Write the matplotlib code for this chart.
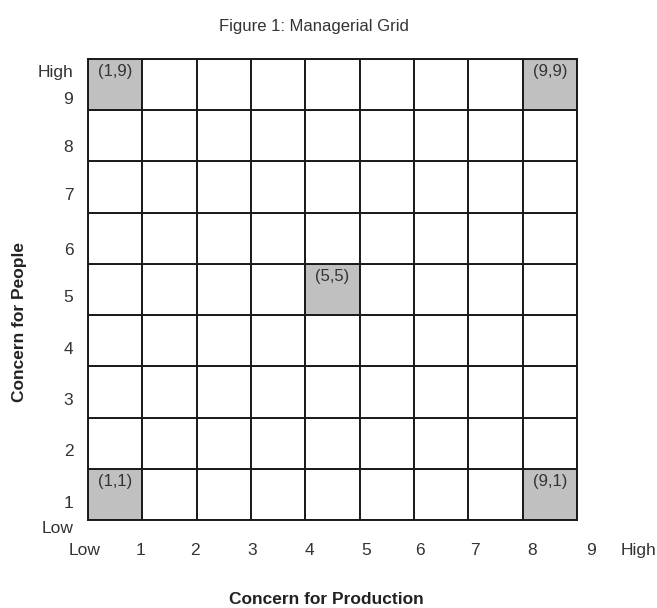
import matplotlib
matplotlib.use("Agg")
import matplotlib.pyplot as plt
from matplotlib.patches import Rectangle

plt.rcParams['font.family'] = ['Liberation Sans Narrow', 'Liberation Sans', 'DejaVu Sans']

# ---- data ----
title = "Figure 1: Managerial Grid"
x_title = "Concern for Production"
y_title = "Concern for People"
n_cells = 9
shaded_cells = [(1, 9), (9, 9), (5, 5), (1, 1), (9, 1)]
x_tick_labels = ["Low", "1", "2", "3", "4", "5", "6", "7", "8", "9", "High"]
y_tick_labels = ["Low", "1", "2", "3", "4", "5", "6", "7", "8", "9", "High"]

# ---- layout (positions of labels in grid units) ----
x_tick_pos = [-0.06, 0.96, 1.97, 3.02, 4.07, 5.12, 6.11, 7.13, 8.18, 9.26, 10.13]
y_tick_pos = [-0.16, 0.33, 1.33, 2.34, 3.32, 4.34, 5.27, 6.33, 7.27, 8.2, 8.73]

W, H = 657, 608
fig = plt.figure(figsize=(W / 100, H / 100), dpi=100)
left, right, top, bottom = 88, 577, 59, 520
ax = fig.add_axes([left / W, 1 - bottom / H, (right - left) / W, (bottom - top) / H])
ax.set_xlim(0, n_cells)
ax.set_ylim(0, n_cells)
ax.set_xticks([])
ax.set_yticks([])

shaded = set(shaded_cells)
for i in range(1, n_cells + 1):
    for j in range(1, n_cells + 1):
        fc = "#c0c0c0" if (i, j) in shaded else "white"
        ax.add_patch(Rectangle((i - 1, j - 1), 1, 1, facecolor=fc,
                               edgecolor="#1a1a1a", linewidth=1.4))
for (i, j) in shaded_cells:
    ax.text(i - 0.5, j - 0.1, f"({i},{j})", ha="center", va="top",
            fontsize=12, color="#333333")

for s in ax.spines.values():
    s.set_linewidth(1.4)
    s.set_color("#1a1a1a")

for pos, lab in zip(x_tick_pos, x_tick_labels):
    ax.text(pos, -0.6, lab, ha="center", va="center", fontsize=12.5,
            color="#333333", clip_on=False)
for pos, lab in zip(y_tick_pos, y_tick_labels):
    ax.text(-0.27, pos, lab, ha="right", va="center", fontsize=12.5,
            color="#333333", clip_on=False)

fig.text(314 / W, 1 - 27 / H, title, ha="center", va="center", fontsize=12, color="#333333")
fig.text(326 / W, 1 - 599 / H, x_title, ha="center", va="center", fontsize=12.5,
         fontweight="bold", color="#222222")
fig.text(20 / W, 1 - 322 / H, y_title, ha="center", va="center", rotation=90,
         fontsize=12.5, fontweight="bold", color="#222222")

fig.savefig("out.png", dpi=100)
